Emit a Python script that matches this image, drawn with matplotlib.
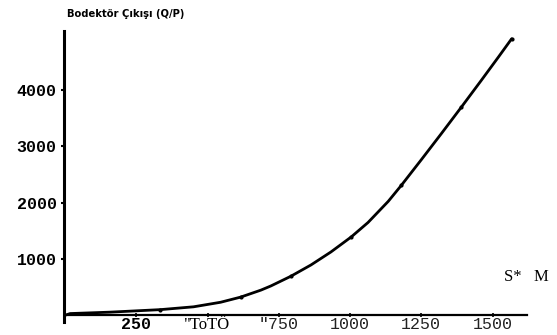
import matplotlib.pyplot as plt

speed = [0, 18, 158, 335, 451, 546, 616, 687, 722, 792, 863, 933, 1004,
         1063, 1134, 1180, 1250, 1320, 1391, 1461, 1521, 1567]
output = [0, 30, 55, 100, 150, 231, 322, 446, 520, 692, 894, 1125, 1391,
          1648, 2024, 2309, 2764, 3226, 3702, 4178, 4592, 4914]

y_ticks = [1000, 2000, 3000, 4000]
y_labels = ['1000', '2000', '3000', '4000']
x_ticks = [250, 500, 750, 1000, 1250, 1500]
x_labels = ['250', '"ToTÖ', '"750', '1000', '1250', '1500']

fig = plt.figure(figsize=(5.57, 3.35), dpi=100)
ax = fig.add_axes([0.1167, 0.0388, 0.829, 0.870])

ax.plot(speed, output, color='black', linewidth=2.0, solid_capstyle='round', zorder=3)
ax.scatter(speed[3::3], output[3::3], color='black', s=4, zorder=4)

ax.set_xlim(0, 1620)
ax.set_ylim(-120, 5060)

for s in ['top', 'right']:
    ax.spines[s].set_visible(False)
ax.spines['left'].set_linewidth(2.2)
ax.spines['left'].set_position(('data', -5))
ax.spines['bottom'].set_linewidth(1.6)
ax.spines['bottom'].set_position(('data', 0))

ax.set_yticks(y_ticks)
ax.set_yticklabels(y_labels, fontfamily='Liberation Mono', fontweight='bold', fontsize=12)
ax.tick_params(axis='y', direction='out', length=2, width=1.5, pad=3)

ax.set_xticks(x_ticks)
ax.set_xticklabels(x_labels, fontsize=12)
ax.tick_params(axis='x', direction='inout', length=3, width=1.2, pad=0)
for lab in ax.get_xticklabels():
    t = lab.get_text()
    if t == '250':
        lab.set_fontfamily('Liberation Mono')
        lab.set_fontweight('bold')
    elif t == '"ToTÖ':
        lab.set_fontfamily('Liberation Serif')
    else:
        lab.set_fontfamily('Liberation Mono')
        lab.set_color('#222222')

ax.text(0.005, 1.057, 'Bodektör Çıkışı (Q/P)', transform=ax.transAxes,
        fontsize=7.2, fontweight='heavy', fontfamily='DejaVu Sans', va='center')
ax.text(1.0, 0.154, 'S*   M', transform=ax.transAxes,
        fontsize=12, fontfamily='Liberation Serif', ha='center', va='center',
        clip_on=False)

fig.savefig('out.png', dpi=100, facecolor='white')
